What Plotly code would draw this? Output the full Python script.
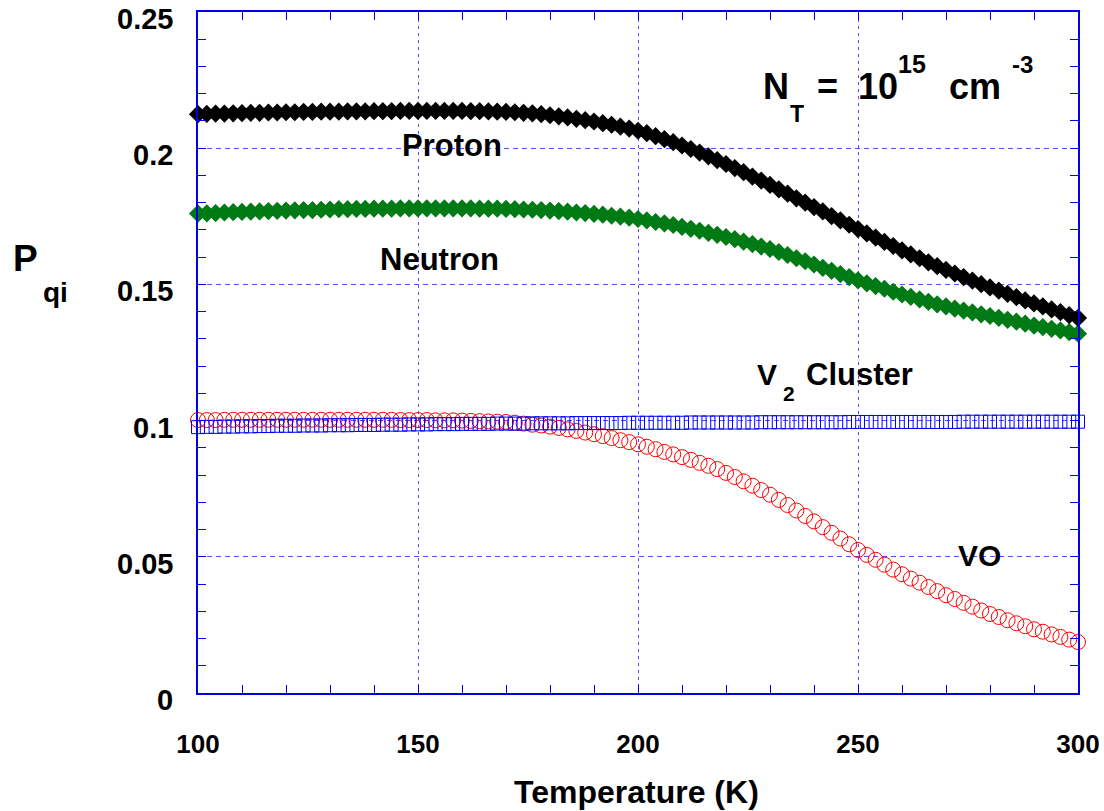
import plotly.graph_objects as go

# Temperature grid (K), one point every 2 K
temperature = list(range(100, 301, 2))

proton = [
    0.2125, 0.2126, 0.2127, 0.2127, 0.2128,
    0.2129, 0.2130, 0.2130, 0.2131, 0.2131,
    0.2132, 0.2132, 0.2133, 0.2133, 0.2134,
    0.2134, 0.2134, 0.2135, 0.2135, 0.2135,
    0.2136, 0.2136, 0.2136, 0.2137, 0.2137,
    0.2137, 0.2137, 0.2137, 0.2137, 0.2137,
    0.2137, 0.2136, 0.2136, 0.2135, 0.2134,
    0.2133, 0.2132, 0.2130, 0.2128, 0.2125,
    0.2121, 0.2117, 0.2113, 0.2108, 0.2103,
    0.2098, 0.2092, 0.2086, 0.2079, 0.2072,
    0.2064, 0.2055, 0.2044, 0.2033, 0.2022,
    0.2010, 0.1997, 0.1984, 0.1970, 0.1956,
    0.1942, 0.1927, 0.1912, 0.1896, 0.1881,
    0.1865, 0.1849, 0.1833, 0.1816, 0.1800,
    0.1784, 0.1768, 0.1751, 0.1735, 0.1719,
    0.1703, 0.1687, 0.1672, 0.1656, 0.1641,
    0.1625, 0.1610, 0.1596, 0.1581, 0.1567,
    0.1553, 0.1540, 0.1527, 0.1514, 0.1501,
    0.1489, 0.1477, 0.1465, 0.1453, 0.1441,
    0.1430, 0.1419, 0.1408, 0.1398, 0.1387,
    0.1377,
]

neutron = [
    0.1760, 0.1761, 0.1762, 0.1764, 0.1765,
    0.1766, 0.1767, 0.1768, 0.1769, 0.1770,
    0.1771, 0.1772, 0.1773, 0.1773, 0.1774,
    0.1775, 0.1776, 0.1776, 0.1777, 0.1777,
    0.1778, 0.1778, 0.1778, 0.1779, 0.1779,
    0.1779, 0.1779, 0.1779, 0.1779, 0.1779,
    0.1779, 0.1779, 0.1778, 0.1778, 0.1778,
    0.1777, 0.1776, 0.1775, 0.1774, 0.1773,
    0.1771, 0.1769, 0.1767, 0.1764, 0.1762,
    0.1759, 0.1756, 0.1752, 0.1749, 0.1745,
    0.1740, 0.1735, 0.1729, 0.1724, 0.1718,
    0.1711, 0.1704, 0.1697, 0.1689, 0.1682,
    0.1674, 0.1666, 0.1657, 0.1648, 0.1639,
    0.1630, 0.1619, 0.1608, 0.1596, 0.1585,
    0.1573, 0.1561, 0.1550, 0.1538, 0.1527,
    0.1515, 0.1504, 0.1494, 0.1484, 0.1473,
    0.1463, 0.1454, 0.1445, 0.1436, 0.1427,
    0.1419, 0.1411, 0.1404, 0.1397, 0.1390,
    0.1384, 0.1377, 0.1370, 0.1363, 0.1356,
    0.1349, 0.1343, 0.1337, 0.1331, 0.1325,
    0.1319,
]

v2_cluster = [
    0.0976, 0.0977, 0.0977, 0.0978, 0.0978,
    0.0979, 0.0979, 0.0980, 0.0980, 0.0981,
    0.0981, 0.0981, 0.0982, 0.0982, 0.0982,
    0.0983, 0.0983, 0.0983, 0.0984, 0.0984,
    0.0984, 0.0985, 0.0985, 0.0985, 0.0986,
    0.0986, 0.0986, 0.0987, 0.0987, 0.0987,
    0.0988, 0.0988, 0.0988, 0.0988, 0.0989,
    0.0989, 0.0989, 0.0989, 0.0990, 0.0990,
    0.0990, 0.0990, 0.0990, 0.0991, 0.0991,
    0.0991, 0.0991, 0.0991, 0.0991, 0.0992,
    0.0992, 0.0992, 0.0992, 0.0992, 0.0992,
    0.0992, 0.0993, 0.0993, 0.0993, 0.0993,
    0.0993, 0.0993, 0.0993, 0.0993, 0.0994,
    0.0994, 0.0994, 0.0994, 0.0994, 0.0994,
    0.0994, 0.0994, 0.0994, 0.0994, 0.0995,
    0.0995, 0.0995, 0.0995, 0.0995, 0.0995,
    0.0995, 0.0995, 0.0995, 0.0995, 0.0995,
    0.0995, 0.0995, 0.0996, 0.0996, 0.0996,
    0.0996, 0.0996, 0.0996, 0.0996, 0.0996,
    0.0996, 0.0996, 0.0996, 0.0996, 0.0996,
    0.0996,
]

vo = [
    0.1002, 0.1002, 0.1002, 0.1003, 0.1003,
    0.1003, 0.1003, 0.1003, 0.1003, 0.1003,
    0.1003, 0.1003, 0.1003, 0.1003, 0.1003,
    0.1003, 0.1003, 0.1003, 0.1003, 0.1003,
    0.1003, 0.1003, 0.1003, 0.1002, 0.1002,
    0.1002, 0.1002, 0.1001, 0.1001, 0.1001,
    0.1000, 0.0999, 0.0998, 0.0997, 0.0996,
    0.0995, 0.0992, 0.0989, 0.0985, 0.0982,
    0.0978, 0.0973, 0.0968, 0.0962, 0.0956,
    0.0950, 0.0943, 0.0936, 0.0928, 0.0921,
    0.0913, 0.0904, 0.0895, 0.0885, 0.0876,
    0.0866, 0.0856, 0.0845, 0.0834, 0.0822,
    0.0808, 0.0793, 0.0777, 0.0761, 0.0745,
    0.0728, 0.0709, 0.0690, 0.0670, 0.0650,
    0.0630, 0.0609, 0.0588, 0.0567, 0.0546,
    0.0525, 0.0507, 0.0489, 0.0471, 0.0453,
    0.0436, 0.0420, 0.0405, 0.0389, 0.0374,
    0.0359, 0.0345, 0.0331, 0.0317, 0.0303,
    0.0290, 0.0279, 0.0267, 0.0256, 0.0245,
    0.0234, 0.0225, 0.0215, 0.0206, 0.0196,
    0.0187,
]

x_ticks = [100, 150, 200, 250, 300]
x_labels = ["100", "150", "200", "250", "300"]
y_ticks = [0, 0.05, 0.1, 0.15, 0.2, 0.25]
y_labels = ["0", "0.05", "0.1", "0.15", "0.2", "0.25"]

FONT = "Liberation Sans"
AXIS_BLUE = "#0000E6"
GRID_BLUE = "#4F4FFF"

# plot-area geometry in pixels, used to place the free text labels
W, H = 1104, 811
L, R, T, B = 198, 1078, 12, 693


def px(x):
    return (x - L) / (R - L)


def py(y):
    return (B - y) / (B - T)


fig = go.Figure()

fig.add_trace(go.Scatter(
    x=temperature, y=vo, mode="markers", cliponaxis=False,
    marker=dict(symbol="circle-open", size=15, color="#FF0000",
                line=dict(width=1, color="#FF0000")),
))
fig.add_trace(go.Scatter(
    x=temperature, y=v2_cluster, mode="markers", cliponaxis=False,
    marker=dict(symbol="square-open", size=13, color="#0000FF",
                line=dict(width=1, color="#0000FF")),
))
fig.add_trace(go.Scatter(
    x=temperature, y=neutron, mode="markers", cliponaxis=False,
    marker=dict(symbol="diamond", size=14, color="#007A14",
                line=dict(width=0)),
))
fig.add_trace(go.Scatter(
    x=temperature, y=proton, mode="markers", cliponaxis=False,
    marker=dict(symbol="diamond", size=14, color="#000000",
                line=dict(width=0)),
))

axis_common = dict(
    showline=True, linecolor=AXIS_BLUE, linewidth=1.5, mirror="ticks",
    ticks="inside", ticklen=8, tickwidth=1, tickcolor=AXIS_BLUE,
    showgrid=True, gridcolor=GRID_BLUE, gridwidth=1, zeroline=False,
    automargin=False,
)

fig.update_xaxes(
    range=[100, 300], tickvals=x_ticks, ticktext=x_labels,
    griddash="3px,4px",
    tickfont=dict(family=FONT, size=26, color="black", weight="bold"),
    ticklabelstandoff=27, ticklabeloverflow="allow",
    minor=dict(dtick=10, ticks="inside", ticklen=8, tickwidth=1,
               tickcolor=AXIS_BLUE, showgrid=False),
    **axis_common,
)
fig.update_yaxes(
    range=[0, 0.25], tickvals=y_ticks, showticklabels=False,
    griddash="5px,4px",
    minor=dict(dtick=0.01, ticks="inside", ticklen=8, tickwidth=1,
               tickcolor=AXIS_BLUE, showgrid=False),
    **axis_common,
)

# y tick labels sit slightly below their grid lines
for val, txt in zip(y_ticks, y_labels):
    fig.add_annotation(
        text=txt, x=px(175), y=val, xref="paper", yref="y",
        xanchor="right", yanchor="middle", yshift=-7, showarrow=False,
        font=dict(family=FONT, size=29, color="black", weight="bold"),
    )

labels = [
    # text, x px, y px (centre of capitals), size, anchor
    ("Proton", 452, 146, 31, "center"),
    ("Neutron", 439, 259, 31, "center"),
    ("V", 755, 374, 30, "left"),
    ("2", 781, 393, 21, "left"),
    ("Cluster", 804, 374, 31, "left"),
    ("VO", 979, 555, 30, "center"),
    ("N", 761, 87, 36, "left"),
    ("T", 788, 114, 23, "left"),
    ("=", 815, 87, 36, "left"),
    ("10", 856, 87, 36, "left"),
    ("15", 896, 64, 25, "left"),
    ("cm", 947, 87, 36, "left"),
    ("-3", 1010, 64, 24, "left"),
    ("P", 11, 258, 37, "left"),
    ("qi", 41, 292, 28, "left"),
    ("Temperature (K)", 636, 792, 32, "center"),
]
for text, x, y, size, anchor in labels:
    fig.add_annotation(
        text=text, x=px(x), y=py(y), xref="paper", yref="paper",
        xanchor=anchor, yanchor="middle", showarrow=False,
        font=dict(family=FONT, size=size, color="black", weight="bold"),
    )

fig.update_layout(
    width=W, height=H,
    margin=dict(l=L, r=W - R, t=T, b=H - B),
    plot_bgcolor="white", paper_bgcolor="white",
    showlegend=False,
)

fig.write_html("out.html")
